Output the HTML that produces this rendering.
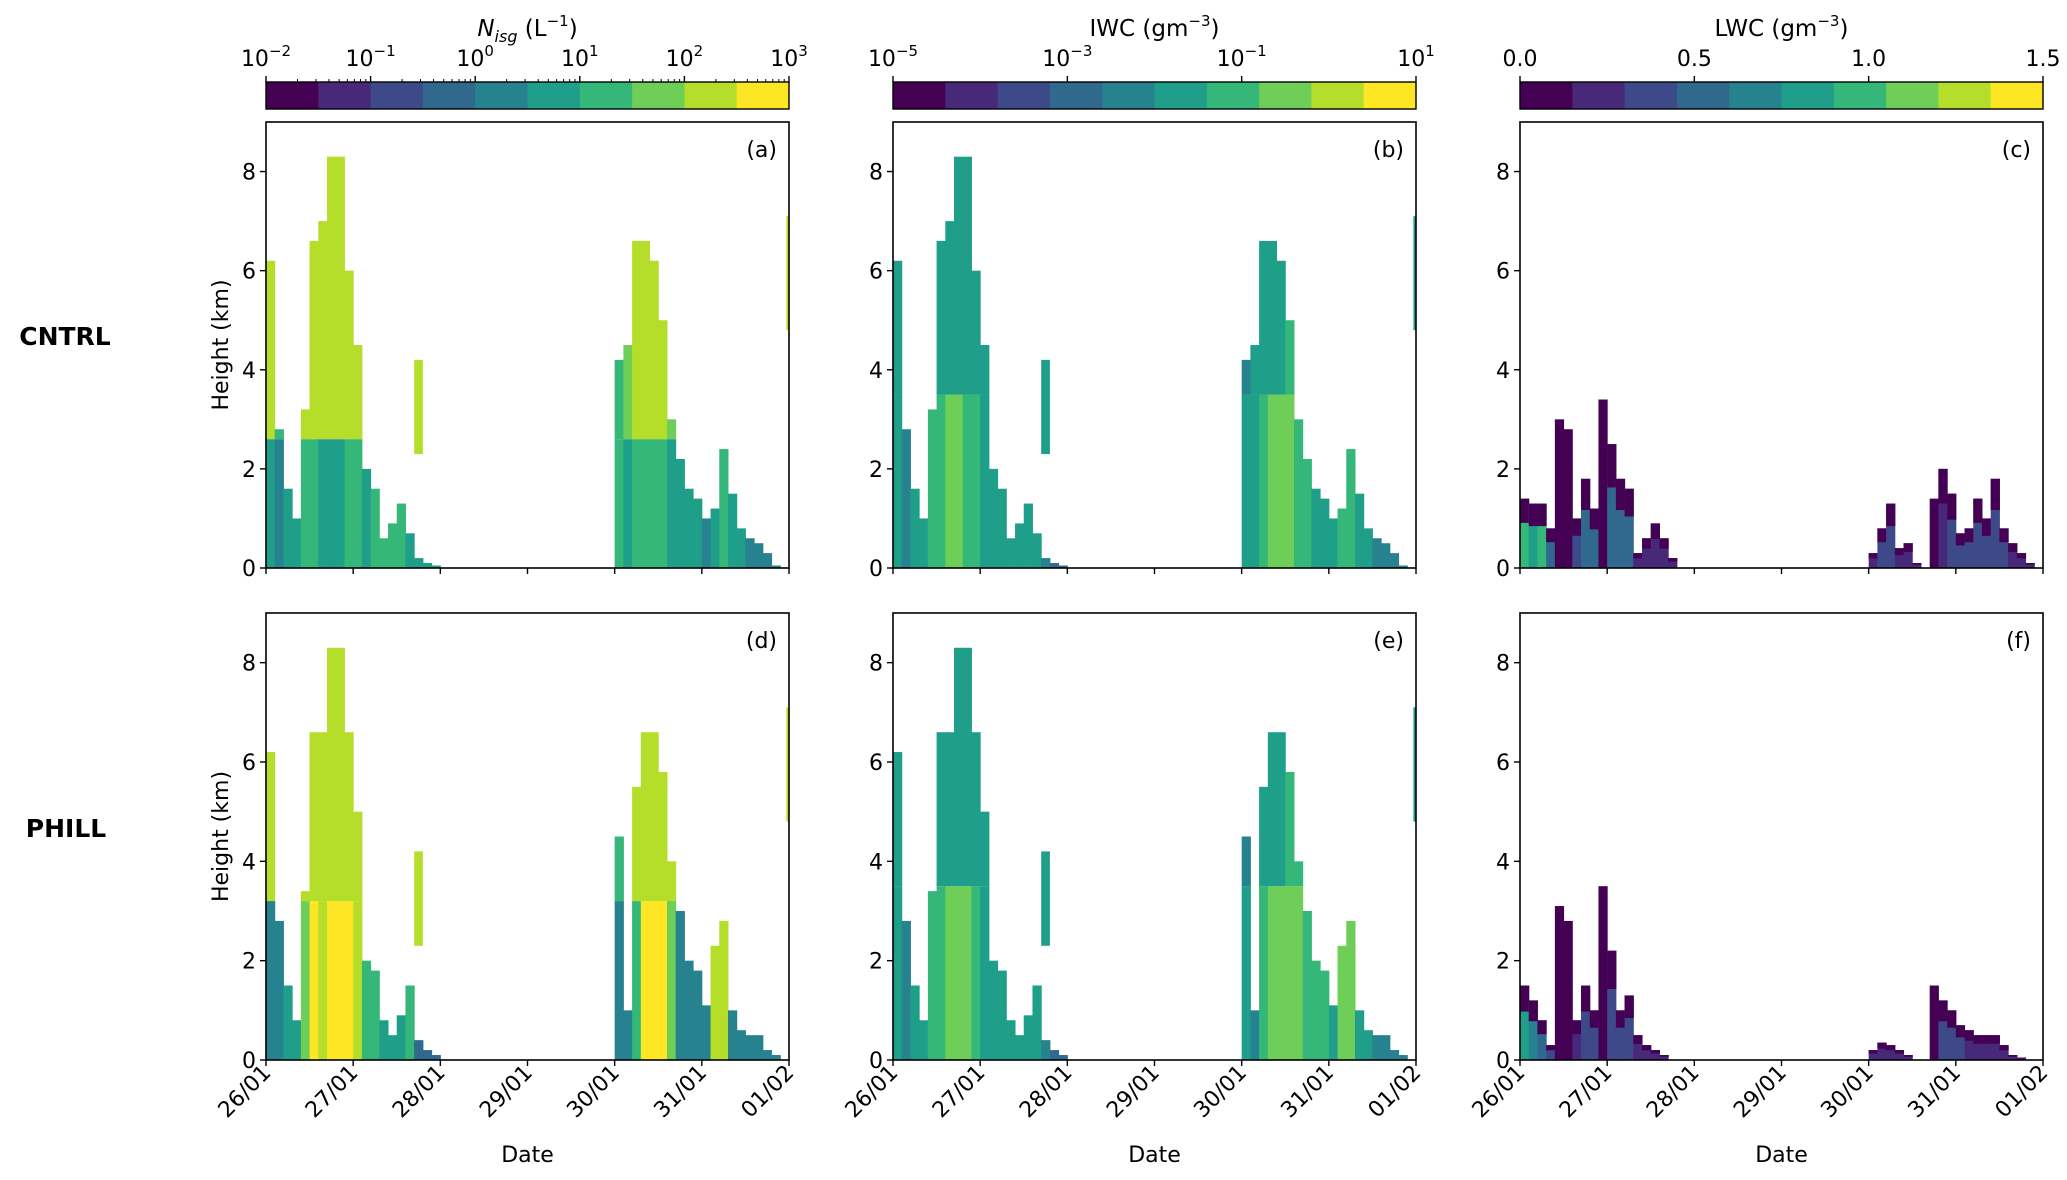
<!DOCTYPE html>
<html><head><meta charset="utf-8">
<style>
html,body{margin:0;padding:0;background:#fff;}
svg text{font-family:"DejaVu Sans","Liberation Sans",sans-serif;fill:#000;}
</style></head>
<body>
<svg id="fig" width="2067" height="1175" viewBox="0 0 2067 1175" xmlns="http://www.w3.org/2000/svg">
<text x="65" y="345" font-size="25" font-weight="bold" text-anchor="middle">CNTRL</text>
<text x="66" y="837" font-size="25" font-weight="bold" text-anchor="middle">PHILL</text>
</svg>
<script>
const viridis=['#440154','#482878','#3e4989','#31688e','#26828e','#1f9e89','#35b779','#6ece58','#b5de2b','#fde725'];
const dayLabels=['26/01','27/01','28/01','29/01','30/01','31/01','01/02'];
const yTicks=[0,2,4,6,8];
const colStart=[0,0.1,0.2,0.3,0.4,0.5,0.6,0.7,0.8,0.9,1.0,1.1,1.2,1.3,1.4,1.5,1.6,1.7,1.8,1.9,2.0,2.1,2.2,2.3,2.4,2.5,2.6,2.7,2.8,2.9,3.0,3.1,3.2,3.3,3.4,3.5,3.6,3.7,3.8,3.9,4.0,4.1,4.2,4.3,4.4,4.5,4.6,4.7,4.8,4.9,5.0,5.1,5.2,5.3,5.4,5.5,5.6,5.7,5.8,5.9];
const cntrlTop=[6.2,2.8,1.6,1.0,3.2,6.6,7.0,8.3,8.3,6.0,4.5,2.0,1.6,0.6,0.9,1.3,0.7,0.2,0.1,0.05,0,0,0,0,0,0,0,0,0,0,0,0,0,0,0,0,0,0,0,0,4.2,4.5,6.6,6.6,6.2,5.0,3.0,2.2,1.6,1.4,1.0,1.2,2.4,1.5,0.8,0.6,0.5,0.3,0.05,0];
const phillTop=[6.2,2.8,1.5,0.8,3.4,6.6,6.6,8.3,8.3,6.6,5.0,2.0,1.8,0.8,0.5,0.9,1.5,0.4,0.2,0.1,0,0,0,0,0,0,0,0,0,0,0,0,0,0,0,0,0,0,0,0,4.5,1.0,5.5,6.6,6.6,5.8,4.0,3.0,2.0,1.8,1.1,2.3,2.8,1.0,0.6,0.5,0.5,0.2,0.1,0];
const cntrlLwcTop=[1.4,1.3,1.3,0.8,3.0,2.8,1.0,1.8,1.2,3.4,2.5,1.8,1.6,0.3,0.6,0.9,0.6,0.2,0,0,0,0,0,0,0,0,0,0,0,0,0,0,0,0,0,0,0,0,0,0,0.3,0.8,1.3,0.4,0.5,0.1,0,1.4,2.0,1.5,0.7,0.8,1.4,1.0,1.8,0.8,0.5,0.3,0.1,0];
const phillLwcTop=[1.5,1.2,0.8,0.3,3.1,2.8,0.8,1.5,1.0,3.5,2.2,1.0,1.3,0.5,0.3,0.2,0.1,0,0,0,0,0,0,0,0,0,0,0,0,0,0,0,0,0,0,0,0,0,0,0,0.2,0.35,0.3,0.2,0.1,0,0,1.5,1.2,1.0,0.7,0.6,0.5,0.5,0.5,0.3,0.1,0.05,0,0];
const aLow=[5,4,5,5,6,6,5,5,5,6,6,5,6,6,6,6,5,5,5,5,0,0,0,0,0,0,0,0,0,0,0,0,0,0,0,0,0,0,0,0,6,5,6,6,6,6,5,5,5,5,4,5,6,5,5,4,4,4,4,0];
const aHigh=[8,6,6,6,8,8,8,8,8,8,8,6,6,6,6,6,6,6,6,6,0,0,0,0,0,0,0,0,0,0,0,0,0,0,0,0,0,0,0,0,6,7,8,8,8,8,7,6,6,6,6,6,6,6,6,6,6,6,6,0];
const dLow=[4,4,5,5,7,9,8,9,9,9,8,6,6,5,5,5,6,3,3,3,0,0,0,0,0,0,0,0,0,0,0,0,0,0,0,0,0,0,0,0,4,4,6,9,9,9,7,4,4,4,4,8,8,4,4,4,4,4,4,0];
const dHigh=[8,4,5,5,8,8,8,8,8,8,8,7,6,5,5,5,6,8,3,3,0,0,0,0,0,0,0,0,0,0,0,0,0,0,0,0,0,0,0,0,6,4,8,8,8,8,8,6,5,5,5,8,8,5,5,5,5,5,5,0];
const bLow=[5,4,5,5,6,6,7,7,6,6,5,5,5,5,5,5,5,4,3,3,0,0,0,0,0,0,0,0,0,0,0,0,0,0,0,0,0,0,0,0,5,5,6,7,7,7,6,6,5,5,5,6,6,5,5,4,4,4,4,0];
const bHigh=[5,4,4,4,5,5,5,5,5,5,5,5,5,5,5,5,5,4,3,3,0,0,0,0,0,0,0,0,0,0,0,0,0,0,0,0,0,0,0,0,4,5,5,5,5,6,6,6,5,5,5,5,5,5,5,4,4,4,4,0];
const eLow=[5,4,5,5,6,6,7,7,7,6,5,5,5,5,5,5,5,4,3,3,0,0,0,0,0,0,0,0,0,0,0,0,0,0,0,0,0,0,0,0,5,4,6,7,7,7,7,6,6,6,5,7,7,5,5,4,4,4,4,0];
const eHigh=[5,4,4,4,5,5,5,5,5,5,5,5,5,5,5,5,5,4,3,3,0,0,0,0,0,0,0,0,0,0,0,0,0,0,0,0,0,0,0,0,4,4,5,5,5,6,6,6,5,5,5,5,5,5,5,4,4,4,4,0];
const cLev=[6,5,6,3,0,0,2,3,3,0,3,3,3,1,1,1,1,1,0,0,0,0,0,0,0,0,0,0,0,0,0,0,0,0,0,0,0,0,0,0,1,2,2,1,1,1,0,0,1,2,2,2,2,2,2,2,1,1,1,0];
const fLev=[5,4,3,2,0,0,1,2,2,0,2,2,2,1,1,1,1,0,0,0,0,0,0,0,0,0,0,0,0,0,0,0,0,0,0,0,0,0,0,0,1,1,1,1,1,0,0,0,2,2,2,1,1,1,1,1,1,1,0,0];
const blobStart=[1.7,5.97];
const blobEnd=[1.8,6.0];
const blobBottom=[2.3,4.8];
const blobTopH=[4.2,7.1];

const NS='http://www.w3.org/2000/svg';
const svg=document.getElementById('fig');
function mk(tag,attrs,parent){const e=document.createElementNS(NS,tag);for(const k in attrs)e.setAttribute(k,attrs[k]);(parent||svg).appendChild(e);return e;}

const colX=[266,893,1520], W=523;
const rowY=[[122,568],[613,1060]];
const panels=[
 {id:'a',col:0,row:0,top:cntrlTop,low:aLow,high:aHigh,split:2.6,blobs:true,blobLev:8},
 {id:'b',col:1,row:0,top:cntrlTop,low:bLow,high:bHigh,split:3.5,blobs:true,blobLev:5},
 {id:'c',col:2,row:0,top:cntrlLwcTop,low:cLev,high:null,split:0,blobs:false},
 {id:'d',col:0,row:1,top:phillTop,low:dLow,high:dHigh,split:3.2,blobs:true,blobLev:8},
 {id:'e',col:1,row:1,top:phillTop,low:eLow,high:eHigh,split:3.5,blobs:true,blobLev:5},
 {id:'f',col:2,row:1,top:phillLwcTop,low:fLev,high:null,split:0,blobs:false}
];
panels.forEach(p=>{
  const x0=colX[p.col], x1=x0+W, yb=rowY[p.row][1], yt=rowY[p.row][0];
  const xs=d=>x0+d/6*W, ys=h=>yb-h/9*(yb-yt);
  const g=mk('g',{});
  
  
  const dw=0.1;
  colStart.forEach((t,i)=>{
    const top=p.top[i]; if(top<=0) return;
    if(p.high===null){
      const r=mk('rect',{x:xs(t),y:ys(top),width:xs(t+dw)-xs(t)+0.5,height:ys(0)-ys(top),fill:viridis[p.low[i]]},g);
      
      
      if(p.low[i]>0){const r2=mk('rect',{x:xs(t),y:ys(top),width:xs(t+dw)-xs(t)+0.5,height:(ys(0)-ys(top))*0.35,fill:viridis[0]},g);
        
        }
    } else {
      const s=Math.min(top,p.split);
      const r=mk('rect',{x:xs(t),y:ys(s),width:xs(t+dw)-xs(t)+0.5,height:ys(0)-ys(s),fill:viridis[p.low[i]]},g);
      
      
      if(top>s){const r2=mk('rect',{x:xs(t),y:ys(top),width:xs(t+dw)-xs(t)+0.5,height:ys(s)-ys(top),fill:viridis[p.high[i]]},g);
        
        }
    }
  });
  if(p.blobs){blobStart.forEach((b,i)=>{
    const r=mk('rect',{x:xs(b),y:ys(blobTopH[i]),width:Math.max(2,xs(blobEnd[i])-xs(b)),height:ys(blobBottom[i])-ys(blobTopH[i]),fill:viridis[p.blobLev]},g);
    
    
  });}
  const fr=mk('rect',{x:x0,y:yt,width:W,height:yb-yt,fill:'none',stroke:'#000','stroke-width':1.6},g);
  
  
  const lt=mk('text',{x:x1-12,y:yt+35,'font-size':22,'text-anchor':'end'},g);lt.textContent='('+p.id+')';
  
  
  yTicks.forEach(v=>{
    mk('line',{x1:x0-6,x2:x0,y1:ys(v),y2:ys(v),stroke:'#000','stroke-width':1.4},g);
    const tt=mk('text',{x:x0-10,y:ys(v)+8,'font-size':22,'text-anchor':'end'},g);tt.textContent=v;
    
    
  });
  dayLabels.forEach((lab,i)=>{
    mk('line',{x1:xs(i),x2:xs(i),y1:yb,y2:yb+6,stroke:'#000','stroke-width':1.4},g);
    if(p.row===1){const tt=mk('text',{x:xs(i)+6,y:yb+14,'font-size':22,'text-anchor':'end',transform:`rotate(-45 ${xs(i)+6} ${yb+14})`},g);tt.textContent=lab;
      
      }
  });
  if(p.row===1){const xl=mk('text',{x:x0+W/2,y:1162,'font-size':22,'text-anchor':'middle'},g);xl.textContent='Date';
    
    }
  if(p.col===0){const yc=(yt+yb)/2;const yl=mk('text',{x:228,y:yc,'font-size':22,'text-anchor':'middle',transform:`rotate(-90 228 ${yc})`},g);yl.textContent='Height (km)';
    
    }
});
const cbLabels=[['10','10','10','10','10','10'],['10','10','10','10'],['0.0','0.5','1.0','1.5']];
const cbExp=[['−2','−1','0','1','2','3'],['−5','−3','−1','1'],null];
const cbTitles=['IWC (gm','LWC (gm'];
[0,1,2].forEach(c=>{
  const x0=colX[c];
  const g=mk('g',{});
  
  
  viridis.forEach((col,i)=>{mk('rect',{x:x0+i*W/10,y:82,width:W/10+0.5,height:27,fill:col},g);});
  mk('rect',{x:x0,y:82,width:W,height:27,fill:'none',stroke:'#000','stroke-width':1.4},g);
  const labs=cbLabels[c], n=labs.length;
  labs.forEach((l,i)=>{
    const x=x0+i*W/(n-1);
    mk('line',{x1:x,x2:x,y1:76,y2:82,stroke:'#000','stroke-width':1.4},g);
    const t=mk('text',{x:x,y:66,'font-size':22,'text-anchor':'middle'},g);
    
    
    if(cbExp[c]){t.textContent=l;const ts=mk('tspan',{dy:-10,'font-size':15},t);ts.textContent=cbExp[c][i];}
    else t.textContent=l;
  });
  if(c===0){for(let d=0;d<5;d++)for(let m=2;m<10;m++){const x=x0+(d+Math.log10(m))*W/5;mk('line',{x1:x,x2:x,y1:79,y2:82,stroke:'#000','stroke-width':1},g);}}
  const title=mk('text',{x:x0+W/2,y:36,'font-size':23,'text-anchor':'middle'},g);
  
  
  if(c===0){const a=mk('tspan',{'font-style':'italic'},title);a.textContent='N';const b=mk('tspan',{'font-style':'italic','font-size':16,dy:6},title);b.textContent='isg';const d=mk('tspan',{dy:-6},title);d.textContent=' (L';const e=mk('tspan',{'font-size':15,dy:-10},title);e.textContent='−1';const f=mk('tspan',{dy:10},title);f.textContent=')';}
  else {const a=mk('tspan',{},title);a.textContent=cbTitles[c-1];const e=mk('tspan',{'font-size':15,dy:-10},title);e.textContent='−3';const f=mk('tspan',{dy:10},title);f.textContent=')';}
});
</script>
</body></html>
